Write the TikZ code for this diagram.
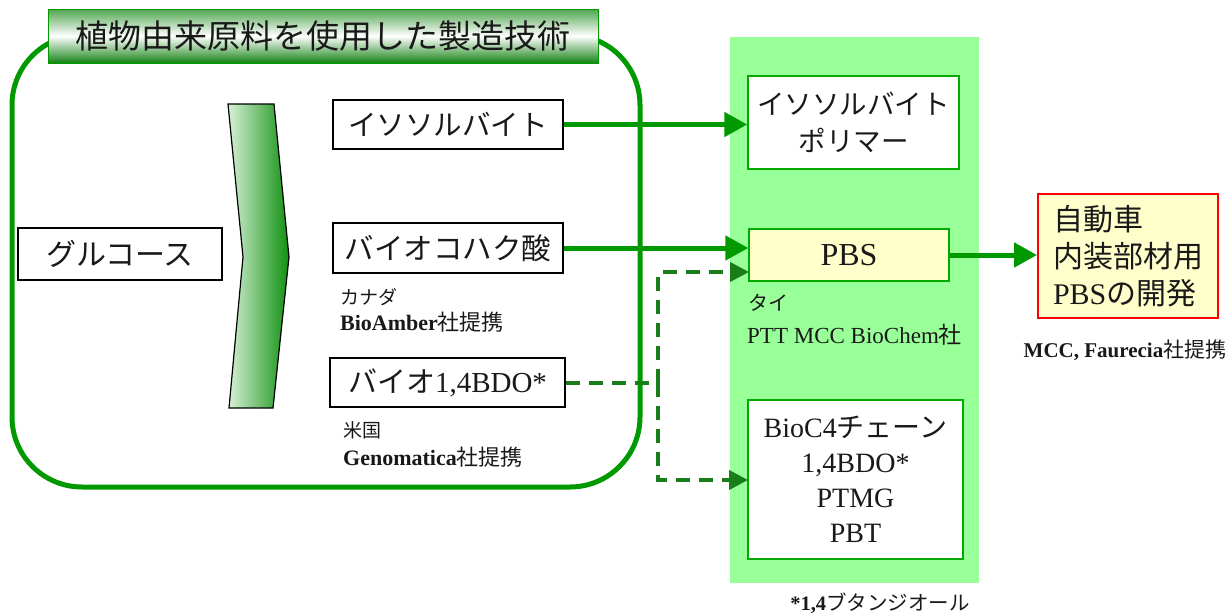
\documentclass[tikz,border=0pt]{standalone}
\usepackage{fontspec}
\setmainfont{Liberation Serif}
\newfontfamily\cjk{Noto Sans CJK JP}
\usetikzlibrary{arrows.meta,shapes.geometric}
\definecolor{fgreen}{RGB}{0,153,0}
\definecolor{dgreen}{RGB}{25,125,25}
\definecolor{bggreen}{RGB}{153,255,153}
\definecolor{pbsfill}{RGB}{255,255,204}
\definecolor{boxgreen}{RGB}{0,170,0}
\definecolor{tgtop}{RGB}{80,165,80}
\definecolor{tgbot}{RGB}{20,130,20}
\definecolor{txt}{RGB}{25,25,25}
\tikzset{
  lbox/.style={draw=black, line width=1.6pt, fill=white, inner sep=0pt, text=txt},
  gbox/.style={draw=boxgreen, line width=1.5pt, fill=white, inner sep=0pt, text=txt},
  lbl/.style={inner sep=0pt, anchor=west, text=txt},
  sarrow/.style={draw=fgreen, line width=5pt, -{Triangle[length=23pt,width=24pt]}},
  dline/.style={draw=dgreen, line width=4pt, dash pattern=on 14pt off 9pt},
  darrow/.style={dline, -{Triangle[length=19pt,width=19pt]}},
  frame/.style={draw=fgreen, line width=5pt, rounded corners=70pt}
}
\begin{document}
\begin{tikzpicture}[x=1pt,y=-1pt]
\useasboundingbox (0,0) rectangle (1227,614);
% big rounded frame
\draw[frame] (12,35) rectangle (640,487);
% title
\node[inner sep=0pt, minimum width=550pt, minimum height=54pt, draw=fgreen, line width=0.8pt,
  top color=tgtop, bottom color=tgbot, middle color=white, text=txt,
  font=\fontsize{33}{36}\selectfont\cjk] (title) at (323,36) {植物由来原料を使用した製造技術};
% green background
\fill[bggreen] (730,37) rectangle (979,583);
% glucose
\node[lbox, minimum width=204pt, minimum height=52pt, font=\fontsize{30}{34}\selectfont\cjk] (glu) at (120,254) {グルコース};
% chevron
\path[draw=black, line width=1.2pt, left color={rgb,255:red,215;green,240;blue,215}, right color={rgb,255:red,15;green,145;blue,15}]
  (228,104) -- (274,104) -- (289,257) -- (273,408) -- (229,408) -- (243,257) -- cycle;
% left boxes
\node[lbox, minimum width=230pt, minimum height=49pt, font=\fontsize{28.5}{32}\selectfont\cjk] (iso) at (448,124.5) {イソソルバイト};
\node[lbox, minimum width=230pt, minimum height=50pt, font=\fontsize{29.5}{32}\selectfont\cjk] (suc) at (448,248) {バイオコハク酸};
\node[lbox, minimum width=235pt, minimum height=49pt, font=\fontsize{29}{32}\selectfont] (bdo) at (447.5,382.5) {{\cjk バイオ}1,4BDO*};
\node[lbl, font=\fontsize{19}{22}\selectfont\cjk] (cn) at (340,297) {カナダ};
\node[lbl, font=\fontsize{22}{24}\selectfont] (ba) at (340,322) {\textbf{BioAmber}{\cjk 社提携}};
\node[lbl, font=\fontsize{19}{22}\selectfont\cjk] (us) at (343,430) {米国};
\node[lbl, font=\fontsize{22}{24}\selectfont] (gm) at (343,457) {\textbf{Genomatica}{\cjk 社提携}};
% right boxes
\node[gbox, minimum width=211pt, minimum height=93pt, align=center, font=\fontsize{27.5}{37}\selectfont\cjk] (iso2) at (853.5,122.5) {イソソルバイト\\ポリマー};
\node[gbox, fill=pbsfill, minimum width=200pt, minimum height=52pt, font=\fontsize{32}{36}\selectfont] (pbs) at (849,255) {PBS};
\node[lbl, font=\fontsize{20}{22}\selectfont\cjk] (thai) at (748,303) {タイ};
\node[lbl, font=\fontsize{23}{26}\selectfont] (ptt) at (747,335) {PTT MCC BioChem{\cjk 社}};
\node[gbox, minimum width=215pt, minimum height=159pt, align=center, font=\fontsize{28}{35}\selectfont] (bio) at (855.5,479.5) {BioC4{\cjk チェーン}\\1,4BDO*\\PTMG\\PBT};
\node[draw=red, line width=2pt, fill=pbsfill, inner sep=0pt, minimum width=180pt, minimum height=124pt,
  text width=150pt, align=left, text=txt, font=\fontsize{30}{37}\selectfont\cjk] (car) at (1128,256) {自動車\\内装部材用\\{\rmfamily PBS}の開発};
\node[inner sep=0pt, text=txt, font=\fontsize{21}{24}\selectfont] (mcc) at (1125,350) {\textbf{MCC, Faurecia}{\cjk 社提携}};
\node[inner sep=0pt, text=txt, font=\fontsize{20.5}{24}\selectfont] (note) at (880,603) {\textbf{*1,4}{\cjk ブタンジオール}};
% arrows
\draw[sarrow] (iso.east) -- (iso.east -| iso2.west);
\draw[sarrow] (suc.east) -- (suc.east -| pbs.west);
\draw[sarrow] (pbs.east) -- (pbs.east -| car.west);
\coordinate (jn) at (658,383);
\coordinate (pbsin) at (749,272);
\coordinate (bioin) at (748,480);
\draw[dline] (bdo.east) -- (bdo.east -| jn);
\draw[darrow] (bdo.east -| jn) |- (pbsin);
\draw[darrow] (bdo.east -| jn) |- (bioin);
\end{tikzpicture}
\end{document}
